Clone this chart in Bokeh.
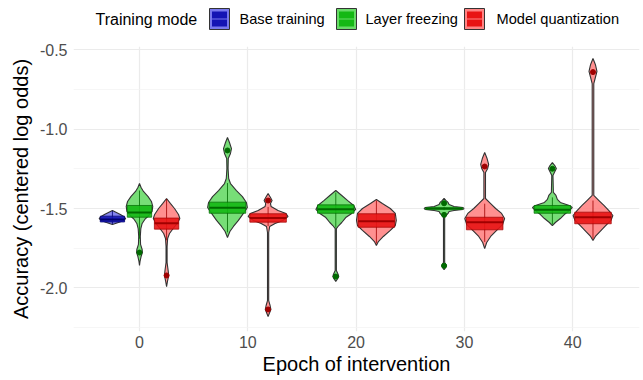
from bokeh.plotting import figure
from bokeh.layouts import column
from bokeh.models import FixedTicker, PrintfTickFormatter
from bokeh.core.properties import value
from bokeh.embed import file_html
from bokeh.resources import INLINE

FONT = "Liberation Sans"

modes = ["Base training", "Layer freezing", "Model quantization"]
legend_title = "Training mode"
epoch_ticks = [0, 10, 20, 30, 40]
y_ticks = [-2.0, -1.5, -1.0, -0.5]
y_minor = [-2.25, -1.75, -1.25, -0.75]

# ---- Base training (only epoch 0) ----
base_epochs = [0]
base_q1 = [-1.585]
base_med = [-1.569]
base_q3 = [-1.548]
base_lo = [-1.598]
base_hi = [-1.515]
base_out = [[]]
base_vy = [[-1.513, -1.525, -1.538, -1.550, -1.563, -1.575, -1.588, -1.601]]
base_vw = [[0.0, 0.3, 0.6, 0.85, 1.0, 0.85, 0.45, 0.0]]

# ---- Layer freezing ----
freeze_epochs = [0, 10, 20, 30, 40]
freeze_q1 = [-1.555, -1.530, -1.530, -1.505, -1.530]
freeze_med = [-1.525, -1.496, -1.504, -1.500, -1.508]
freeze_q3 = [-1.481, -1.460, -1.477, -1.496, -1.481]
freeze_lo = [-1.690, -1.650, -1.620, -1.510, -1.600]
freeze_hi = [-1.387, -1.340, -1.400, -1.490, -1.430]
freeze_out = [[-1.777], [-1.135], [-1.928], [-1.467, -1.540, -1.860], [-1.250]]
freeze_vy = [
    [-1.343, -1.368, -1.393, -1.425, -1.456, -1.487, -1.519, -1.544, -1.569, -1.594, -1.626,
     -1.676, -1.726, -1.758, -1.777, -1.802, -1.833, -1.858],
    [-1.053, -1.085, -1.123, -1.154, -1.186, -1.248, -1.311, -1.343, -1.387, -1.425, -1.462,
     -1.494, -1.531, -1.575, -1.613, -1.645, -1.682],
    [-1.387, -1.418, -1.450, -1.481, -1.506, -1.531, -1.557, -1.588, -1.607, -1.626, -1.890,
     -1.915, -1.928, -1.940, -1.959],
    [-1.437, -1.450, -1.462, -1.475, -1.487, -1.494, -1.500, -1.506, -1.513, -1.519, -1.531,
     -1.544, -1.557, -1.840, -1.858, -1.871, -1.884],
    [-1.211, -1.230, -1.248, -1.274, -1.292, -1.399, -1.418, -1.443, -1.462, -1.481, -1.494,
     -1.513, -1.538, -1.563, -1.588, -1.607],
]
freeze_vw = [
    [0.0, 0.12, 0.3, 0.65, 0.9, 1.0, 0.95, 0.7, 0.4, 0.2, 0.1, 0.06, 0.08, 0.2, 0.22, 0.12, 0.04, 0.0],
    [0.0, 0.1, 0.2, 0.15, 0.04, 0.03, 0.06, 0.15, 0.45, 0.75, 0.95, 1.0, 0.8, 0.55, 0.3, 0.12, 0.0],
    [0.0, 0.3, 0.6, 0.9, 1.0, 0.8, 0.5, 0.3, 0.15, 0.03, 0.03, 0.12, 0.15, 0.1, 0.0],
    [0.0, 0.1, 0.2, 0.25, 0.5, 0.95, 1.0, 0.95, 0.5, 0.25, 0.2, 0.1, 0.03, 0.03, 0.12, 0.08, 0.0],
    [0.0, 0.12, 0.2, 0.1, 0.03, 0.05, 0.18, 0.25, 0.4, 0.85, 1.0, 0.85, 0.6, 0.4, 0.15, 0.0],
]

# ---- Model quantization ----
quant_epochs = [0, 10, 20, 30, 40]
quant_q1 = [-1.630, -1.586, -1.618, -1.634, -1.596]
quant_med = [-1.592, -1.559, -1.580, -1.586, -1.555]
quant_q3 = [-1.560, -1.533, -1.533, -1.555, -1.523]
quant_lo = [-1.700, -1.610, -1.720, -1.710, -1.690]
quant_hi = [-1.440, -1.490, -1.450, -1.470, -1.450]
quant_out = [[-1.921], [-1.450, -2.135], [], [-1.236], [-0.642]]
quant_vy = [
    [-1.437, -1.469, -1.500, -1.538, -1.563, -1.594, -1.626, -1.657, -1.689, -1.739, -1.840,
     -1.890, -1.921, -1.953, -1.991],
    [-1.406, -1.431, -1.450, -1.469, -1.487, -1.513, -1.531, -1.550, -1.575, -1.594, -1.613,
     -1.651, -2.079, -2.110, -2.135, -2.160, -2.179],
    [-1.443, -1.469, -1.500, -1.531, -1.575, -1.607, -1.638, -1.676, -1.708, -1.733],
    [-1.148, -1.186, -1.223, -1.248, -1.274, -1.437, -1.469, -1.500, -1.531, -1.563, -1.601,
     -1.638, -1.676, -1.714, -1.752],
    [-0.557, -0.594, -0.638, -0.676, -0.714, -1.418, -1.450, -1.481, -1.513, -1.544, -1.575,
     -1.613, -1.645, -1.676, -1.701],
]
quant_vw = [
    [0.0, 0.3, 0.6, 0.9, 1.0, 0.8, 0.5, 0.22, 0.08, 0.04, 0.04, 0.12, 0.16, 0.08, 0.0],
    [0.0, 0.12, 0.2, 0.12, 0.15, 0.5, 0.9, 1.0, 0.75, 0.35, 0.08, 0.03, 0.03, 0.1, 0.14, 0.06, 0.0],
    [0.0, 0.3, 0.7, 0.95, 1.0, 0.95, 0.7, 0.35, 0.1, 0.0],
    [0.0, 0.12, 0.2, 0.15, 0.04, 0.04, 0.3, 0.55, 0.85, 1.0, 0.9, 0.6, 0.3, 0.1, 0.0],
    [0.0, 0.12, 0.2, 0.12, 0.04, 0.04, 0.3, 0.55, 0.8, 1.0, 0.9, 0.6, 0.35, 0.12, 0.0],
]

light = {"Base training": "#7878ee", "Layer freezing": "#68da68", "Model quantization": "#ff8484"}
dark = {"Base training": "#1414b4", "Layer freezing": "#14b814", "Model quantization": "#e81414"}
edge = {"Base training": "#00006e", "Layer freezing": "#006a00", "Model quantization": "#a00000"}

series = {
    "Base training": (base_epochs, base_q1, base_med, base_q3, base_lo, base_hi, base_out, base_vy, base_vw),
    "Layer freezing": (freeze_epochs, freeze_q1, freeze_med, freeze_q3, freeze_lo, freeze_hi, freeze_out, freeze_vy, freeze_vw),
    "Model quantization": (quant_epochs, quant_q1, quant_med, quant_q3, quant_lo, quant_hi, quant_out, quant_vy, quant_vw),
}

DODGE = 7.5
groups_at = {}
for m in modes:
    for e in series[m][0]:
        groups_at.setdefault(e, []).append(m)


def position(m, e):
    g = groups_at[e]
    slot = DODGE / len(g)
    return e - DODGE / 2 + slot * (g.index(m) + 0.5), slot


# ------------------------------------------------------------------ legend strip
# (the column layout aligns this strip's frame with the main plot frame: page x 73..639)
LEG_H = 40
leg = figure(width=643, height=LEG_H, x_range=(73, 639), y_range=(LEG_H, 0),
             output_backend="svg", toolbar_location=None,
             min_border_left=0, min_border_right=0, min_border_top=0, min_border_bottom=0)
leg.axis.visible = False
leg.grid.visible = False
leg.outline_line_color = None

key_left = [209, 336, 464]
text_left = [239, 365, 496]
key_top, key_bot = 8, 29
leg.text(x=[95], y=[18.5], text=[legend_title], text_font=value(FONT), text_font_size="16px",
         text_baseline="middle", text_align="left", text_color="black")
for i, m in enumerate(modes):
    kl = key_left[i]
    leg.quad(left=[kl], right=[kl + 20], top=[key_top], bottom=[key_bot],
             fill_color=light[m], line_color="#333333", line_width=1)
    leg.quad(left=[kl + 2.5], right=[kl + 17.5], top=[key_top + 3], bottom=[key_bot - 3],
             fill_color=dark[m], line_color=None)
    leg.segment(x0=[kl + 2.5], x1=[kl + 17.5], y0=[(key_top + key_bot) / 2], y1=[(key_top + key_bot) / 2],
                line_color=light[m], line_width=1)
    leg.text(x=[text_left[i]], y=[18.5], text=[m], text_font=value(FONT), text_font_size="14.6px",
             text_baseline="middle", text_align="left", text_color="black")

# ------------------------------------------------------------------ main plot
p = figure(width=643, height=380 - LEG_H, x_range=(-6.094, 46.17), y_range=(-2.2736, -0.4811),
           output_backend="svg", toolbar_location=None,
           min_border_left=73, min_border_right=4, min_border_top=46 - LEG_H, min_border_bottom=49)
p.outline_line_color = None
p.background_fill_color = "white"

p.xaxis.ticker = FixedTicker(ticks=epoch_ticks)
p.yaxis.ticker = FixedTicker(ticks=y_ticks, minor_ticks=y_minor)
p.yaxis.formatter = PrintfTickFormatter(format="%.1f")
for ax in (p.xaxis, p.yaxis):
    ax.axis_line_color = None
    ax.major_tick_line_color = None
    ax.minor_tick_line_color = None
    ax.major_tick_out = 0
    ax.major_tick_in = 0
    ax.minor_tick_out = 0
    ax.major_label_text_font = FONT
    ax.major_label_text_font_size = "16px"
    ax.major_label_text_color = "#4d4d4d"
    ax.axis_label_text_font = FONT
    ax.axis_label_text_font_size = "20px"
    ax.axis_label_text_font_style = "normal"
    ax.axis_label_text_color = "black"
p.xaxis.axis_label = "Epoch of intervention"
p.yaxis.axis_label = "Accuracy (centered log odds)"
p.xaxis.major_label_standoff = 4
p.yaxis.major_label_standoff = 6
p.xaxis.axis_label_standoff = 2
p.yaxis.axis_label_standoff = 5

p.xgrid.grid_line_color = "#ebebeb"
p.xgrid.grid_line_width = 1.2
p.ygrid.grid_line_color = "#ebebeb"
p.ygrid.grid_line_width = 1.2
p.ygrid.minor_grid_line_color = "#f2f2f2"
p.ygrid.minor_grid_line_width = 0.7

for m in modes:
    epochs, q1, med, q3, lo, hi, outs, vys, vws = series[m]
    xs, ys = [], []
    bl, br, bb, bt = [], [], [], []
    my = []
    wx, wy0, wy1 = [], [], []
    ox, oy = [], []
    for i, e in enumerate(epochs):
        c, slot = position(m, e)
        hw = slot / 2 * 0.98
        vy, vw = vys[i], vws[i]
        xs.append([c + w * hw for w in vw] + [c - w * hw for w in reversed(vw)])
        ys.append(list(vy) + list(reversed(vy)))
        bh = slot * 0.45
        bl.append(c - bh); br.append(c + bh); bb.append(q1[i]); bt.append(q3[i])
        my.append(med[i])
        wx.append(c); wy0.append(lo[i]); wy1.append(hi[i])
        for o in outs[i]:
            ox.append(c); oy.append(o)
    p.patches(xs=xs, ys=ys, fill_color=light[m], fill_alpha=0.9, line_color="#333333", line_width=1.1)
    p.segment(x0=wx, y0=wy0, x1=wx, y1=wy1, line_color=edge[m], line_width=1, line_alpha=0.8)
    p.quad(left=bl, right=br, bottom=bb, top=bt, fill_color=dark[m], fill_alpha=0.9,
           line_color=edge[m], line_width=1, line_alpha=0.7)
    p.segment(x0=bl, y0=my, x1=br, y1=my, line_color=edge[m], line_width=2)
    if ox:
        p.scatter(x=ox, y=oy, size=5, fill_color=edge[m], line_color=edge[m])

layout = column(leg, p, spacing=0)
open("out.html", "w").write(file_html(layout, INLINE))
